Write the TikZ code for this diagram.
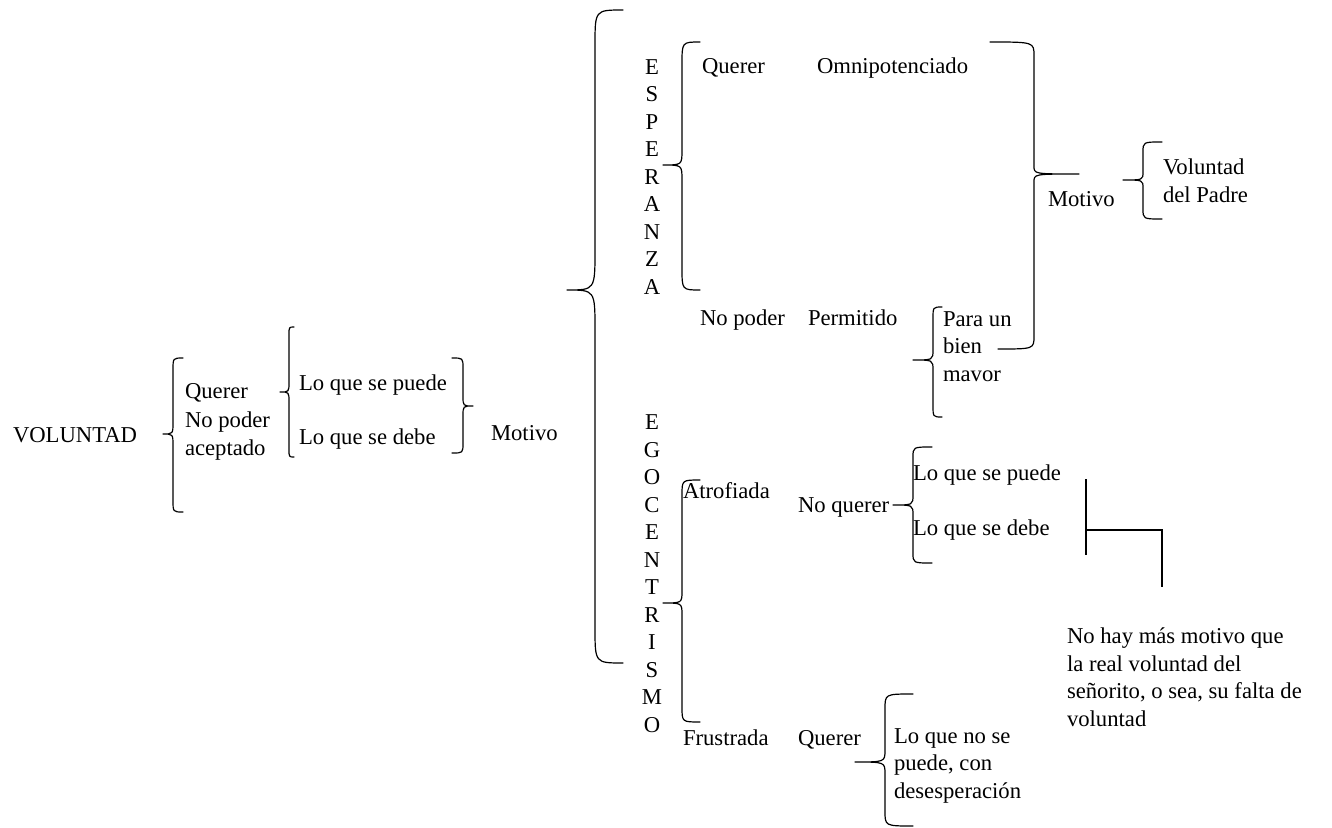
\documentclass[tikz,border=0pt]{standalone}
\usepackage{fontspec}
\setmainfont{Liberation Serif}
% #1 end x, #2 stem x, #3 tip x, #4 top y, #5 tip y, #6 bottom y, #7 end bend, #8 tip bend
\newcommand\mybrace[8]{\draw[bracestyle] (#1,#4) .. controls (#2,#4) .. (#2,{#4+#7}) -- (#2,{#5-#8}) .. controls (#2,#5) .. (#3,#5) .. controls (#2,#5) .. (#2,{#5+#8}) -- (#2,{#6-#7}) .. controls (#2,#6) .. (#1,#6);}
\begin{document}
\begin{tikzpicture}[x=0.75pt,y=-0.75pt,
  every node/.style={inner sep=0pt,outer sep=0pt,font=\fontsize{17}{20.6}\selectfont},
  lbl/.style={anchor=base west,align=left},
  vword/.style={anchor=base,align=center},
  bracestyle/.style={line width=0.9pt,line cap=round,line join=round},
  rule/.style={line width=0.9pt}]
\useasboundingbox (0,0) rectangle (1332,828);

% first level (multi-line nodes are placed at the baseline of their last line)
\node[lbl] (vol) at (13,442) {VOLUNTAD};
\mybrace{183}{173}{163}{358}{434}{512}{12}{12}
\node[lbl] (q1) at (185,398) {Querer};
\node[lbl] (np1) at (185,455) {No poder\\aceptado};
\mybrace{294}{289}{280}{327}{392}{457}{8}{10}
\node[lbl] (lqp1) at (299,390) {Lo que se puede};
\node[lbl] (lqd1) at (299,444) {Lo que se debe};
\mybrace{452}{463}{473}{358}{406}{453}{10}{10}
\node[lbl] (mot1) at (491,440) {Motivo};

% big brace
\mybrace{623}{595}{567}{10}{290}{663}{35}{40}

% ESPERANZA
\node[vword] (esp) at (652,294) {E\\S\\P\\E\\R\\A\\N\\Z\\A};
\mybrace{700}{682}{663}{42}{165}{290}{22}{15}
\node[lbl] (q2) at (702,73) {Querer};
\node[lbl] (omni) at (817,73) {Omnipotenciado};
\node[lbl] (np2) at (700,325) {No poder};
\node[lbl] (perm) at (808,325) {Permitido};
\mybrace{942}{933}{913}{307}{360}{417}{12}{10}
\node[lbl] (para) at (943,381) {Para un\\bien\\mavor};
\draw[bracestyle] (990,42) .. controls (1034,42) .. (1034,56) -- (1034,166) .. controls (1034,174) .. (1079,174) .. controls (1034,174) .. (1034,182) -- (1034,336) .. controls (1034,349) .. (998,349);
\node[lbl] (mot2) at (1048,206) {Motivo};
\mybrace{1162}{1143}{1123}{142}{180}{219}{10}{8}
\node[lbl] (volp) at (1163,202) {Voluntad\\del Padre};

% EGOCENTRISMO
\node[vword] (ego) at (652,732) {E\\G\\O\\C\\E\\N\\T\\R\\I\\S\\M\\O};
\mybrace{700}{682}{663}{480}{603}{722}{15}{12}
\node[lbl] (atr) at (683,498) {Atrofiada};
\node[lbl] (nq) at (798,512) {No querer};
\mybrace{932}{913}{893}{447}{505}{563}{10}{10}
\node[lbl] (lqp2) at (913,480) {Lo que se puede};
\node[lbl] (lqd2) at (913,535) {Lo que se debe};
\coordinate (ta) at (1086,479);
\coordinate (tb) at (1086,555);
\coordinate (tc) at (1086,530);
\coordinate (td) at (1162,530);
\coordinate (te) at (1162,587);
\draw[rule] (ta) -- (tb);
\draw[rule] (tc) -- (td) -- (te);
\node[lbl] (nohay) at (1067,726) {No hay más motivo que\\la real voluntad del\\señorito, o sea, su falta de\\voluntad};
\node[lbl] (fru) at (683,745) {Frustrada};
\node[lbl] (q3) at (798,745) {Querer};
\mybrace{913}{885}{855}{694}{762}{826}{15}{12}
\node[lbl] (lqn) at (894,798) {Lo que no se\\puede, con\\desesperación};
\end{tikzpicture}
\end{document}
